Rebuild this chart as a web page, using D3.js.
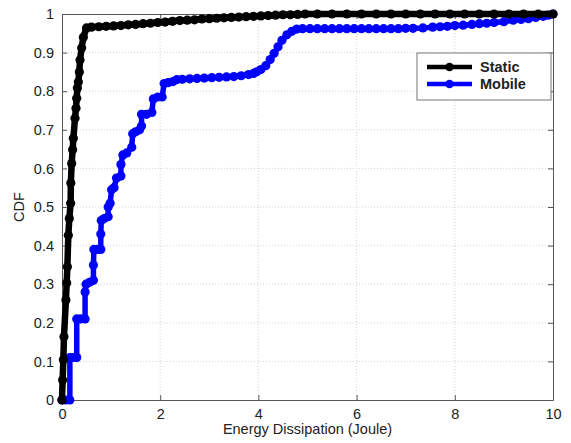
<!DOCTYPE html>
<html>
<head>
<meta charset="utf-8">
<script src="https://cdn.jsdelivr.net/npm/d3@7"></script>
<style>
  html, body { margin: 0; padding: 0; background: #fff; }
  svg { display: block; font-family: "Liberation Sans", Arial, sans-serif; }
</style>
</head>
<body>
<svg id="chart" width="571" height="443"></svg>
<script>
// Energy dissipation samples (Joule) and their cumulative probabilities
const staticX = [0, 0.013, 0.027, 0.04, 0.08, 0.095, 0.109, 0.129, 0.149, 0.176, 0.18, 0.197, 0.217, 0.231, 0.265, 0.285, 0.299, 0.313, 0.333, 0.353, 0.367, 0.40, 0.435, 0.50,
  0.6, 0.75, 0.9, 1.05, 1.2, 1.35, 1.5, 1.65, 1.8, 1.95, 2.1, 2.25, 2.4, 2.55, 2.7, 2.85, 3.0, 3.15, 3.3, 3.45, 3.6, 3.75, 3.9, 4.05, 4.2, 4.35, 4.5, 4.65, 4.8, 4.95,
  5.2, 5.5, 5.8, 6.1, 6.4, 6.7, 7.0, 7.3, 7.6, 7.9, 8.2, 8.5, 8.8, 9.1, 9.4, 9.7, 10];
const staticCDF = [0, 0.052, 0.104, 0.164, 0.259, 0.303, 0.345, 0.427, 0.47, 0.51, 0.562, 0.613, 0.648, 0.678, 0.73, 0.756, 0.782, 0.808, 0.824, 0.85, 0.881, 0.912, 0.94, 0.964,
  0.966, 0.967, 0.968, 0.969, 0.970, 0.972, 0.973, 0.975, 0.976, 0.978, 0.979, 0.981, 0.983, 0.984, 0.985, 0.987, 0.988, 0.989, 0.990, 0.991, 0.992, 0.993, 0.994, 0.995, 0.996, 0.997, 0.998, 0.998, 0.999, 1.0,
  1.0, 1.0, 1.0, 1.0, 1.0, 1.0, 1.0, 1.0, 1.0, 1.0, 1.0, 1.0, 1.0, 1.0, 1.0, 1.0, 1.0];

const mobileX = [0, 0.08, 0.16, 0.16, 0.22, 0.30, 0.30, 0.38, 0.47, 0.47, 0.49, 0.56, 0.64, 0.64, 0.65, 0.72, 0.79, 0.79, 0.80, 0.86, 0.94, 0.94, 0.98, 1.01, 1.06, 1.11, 1.20, 1.20, 1.24, 1.32, 1.42, 1.44, 1.50, 1.58, 1.62, 1.62, 1.72, 1.83, 1.86, 1.95, 2.04, 2.08, 2.16, 2.26, 2.34,
  2.45, 2.6, 2.75, 2.9, 3.05, 3.2, 3.35, 3.5, 3.65, 3.8, 3.9, 3.96, 4.05, 4.15, 4.24, 4.32, 4.40, 4.48, 4.58, 4.68, 4.78,
  4.9, 5.05, 5.2, 5.35, 5.5, 5.65, 5.8, 5.95, 6.1, 6.25, 6.4, 6.55, 6.7, 6.85, 7.0, 7.15, 7.35, 7.55, 7.7, 7.85, 8.0, 8.17, 8.35, 8.5, 8.65, 8.8, 9.0, 9.19, 9.35, 9.5, 9.65, 9.8, 9.9, 10];
const mobileCDF = [0, 0, 0, 0.11, 0.11, 0.11, 0.21, 0.21, 0.21, 0.28, 0.30, 0.305, 0.31, 0.35, 0.39, 0.39, 0.39, 0.43, 0.465, 0.47, 0.475, 0.50, 0.51, 0.545, 0.55, 0.575, 0.58, 0.61, 0.635, 0.64, 0.655, 0.69, 0.695, 0.70, 0.71, 0.74, 0.74, 0.745, 0.78, 0.785, 0.785, 0.82, 0.822, 0.825, 0.83,
  0.831, 0.832, 0.833, 0.834, 0.835, 0.836, 0.837, 0.838, 0.840, 0.843, 0.846, 0.850, 0.856, 0.866, 0.882, 0.898, 0.915, 0.932, 0.946, 0.955, 0.961,
  0.962, 0.962, 0.962, 0.962, 0.962, 0.962, 0.962, 0.962, 0.962, 0.962, 0.962, 0.962, 0.962, 0.962, 0.963, 0.963, 0.964, 0.966, 0.967, 0.968, 0.970, 0.971, 0.973, 0.975, 0.976, 0.978, 0.980, 0.984, 0.986, 0.988, 0.991, 0.994, 0.997, 1.0];

const xTicks = [0, 2, 4, 6, 8, 10];
const yTicks = [0, 0.1, 0.2, 0.3, 0.4, 0.5, 0.6, 0.7, 0.8, 0.9, 1];
const seriesNames = ["Static", "Mobile"];
const seriesColors = ["#000000", "#0000ff"];

const svg = d3.select("#chart");
const margin = { left: 62, right: 18, top: 14, bottom: 43 };
const W = 571, H = 443;
const x = d3.scaleLinear().domain([0, 10]).range([margin.left, W - margin.right]);
const y = d3.scaleLinear().domain([0, 1]).range([H - margin.bottom, margin.top]);

const fontSize = 14.5;

// grid
const grid = svg.append("g").attr("stroke", "#d4d4d4").attr("stroke-width", 1).attr("stroke-dasharray", "1,2");
grid.selectAll(".gx").data(xTicks.slice(1, -1)).join("line")
  .attr("x1", d => x(d)).attr("x2", d => x(d)).attr("y1", y(0)).attr("y2", y(1));
grid.selectAll(".gy").data(yTicks.slice(1, -1)).join("line")
  .attr("x1", x(0)).attr("x2", x(10)).attr("y1", d => y(d)).attr("y2", d => y(d));

// axes with inward ticks
const axisColor = "#555";
function styleAxis(g) {
  g.select(".domain").attr("stroke", axisColor);
  g.selectAll(".tick line").attr("stroke", axisColor);
  g.selectAll(".tick text").attr("fill", "#222").attr("font-size", fontSize);
}
svg.append("g").attr("transform", `translate(0,${y(0)})`)
  .call(d3.axisBottom(x).tickValues(xTicks).tickSizeInner(-5).tickSizeOuter(0).tickPadding(9).tickFormat(d3.format("d")))
  .call(styleAxis);
svg.append("g").attr("transform", `translate(0,${y(1)})`)
  .call(d3.axisTop(x).tickValues(xTicks).tickSizeInner(-5).tickSizeOuter(0).tickFormat(""))
  .call(styleAxis);
svg.append("g").attr("transform", `translate(${x(0)},0)`)
  .call(d3.axisLeft(y).tickValues(yTicks).tickSizeInner(-5).tickSizeOuter(0).tickPadding(8).tickFormat(d => d === 0 || d === 1 ? d3.format("d")(d) : d3.format(".1f")(d)))
  .call(styleAxis);
svg.append("g").attr("transform", `translate(${x(10)},0)`)
  .call(d3.axisRight(y).tickValues(yTicks).tickSizeInner(-5).tickSizeOuter(0).tickFormat(""))
  .call(styleAxis);

// series
const series = [
  { name: seriesNames[0], color: seriesColors[0], xs: staticX, ys: staticCDF, width: 6.5 },
  { name: seriesNames[1], color: seriesColors[1], xs: mobileX, ys: mobileCDF, width: 5.5 }
];
const line = d3.line().x(d => x(d[0])).y(d => y(d[1]));
// draw Mobile first so Static sits on top
series.slice().reverse().forEach(s => {
  const pts = s.xs.map((v, i) => [v, s.ys[i]]);
  const g = svg.append("g");
  g.append("path").datum(pts).attr("d", line)
    .attr("fill", "none").attr("stroke", s.color).attr("stroke-width", s.width)
    .attr("stroke-linejoin", "round").attr("stroke-linecap", "round");
  g.selectAll("circle").data(pts).join("circle")
    .attr("cx", d => x(d[0])).attr("cy", d => y(d[1])).attr("r", 4.6).attr("fill", s.color);
});

// axis titles
svg.append("text").attr("x", (x(0) + x(10)) / 2).attr("y", 434).attr("text-anchor", "middle")
  .attr("font-size", fontSize).attr("fill", "#222").text("Energy Dissipation (Joule)");
svg.append("text").attr("transform", `translate(24,${(y(0) + y(1)) / 2}) rotate(-90)`).attr("text-anchor", "middle")
  .attr("font-size", fontSize).attr("fill", "#222").text("CDF");

// legend
const lg = svg.append("g");
lg.append("rect").attr("x", 417).attr("y", 53).attr("width", 134).attr("height", 47)
  .attr("fill", "#fff").attr("stroke", "#777").attr("stroke-width", 1);
series.forEach((s, i) => {
  const ly = 67 + i * 17;
  lg.append("line").attr("x1", 427).attr("x2", 472).attr("y1", ly).attr("y2", ly)
    .attr("stroke", s.color).attr("stroke-width", 4.5);
  lg.append("circle").attr("cx", 449.5).attr("cy", ly).attr("r", 4.3).attr("fill", s.color);
  lg.append("text").attr("x", 480).attr("y", ly + 5).attr("font-size", fontSize).attr("font-weight", "bold")
    .attr("fill", "#222").text(s.name);
});
</script>
</body>
</html>
